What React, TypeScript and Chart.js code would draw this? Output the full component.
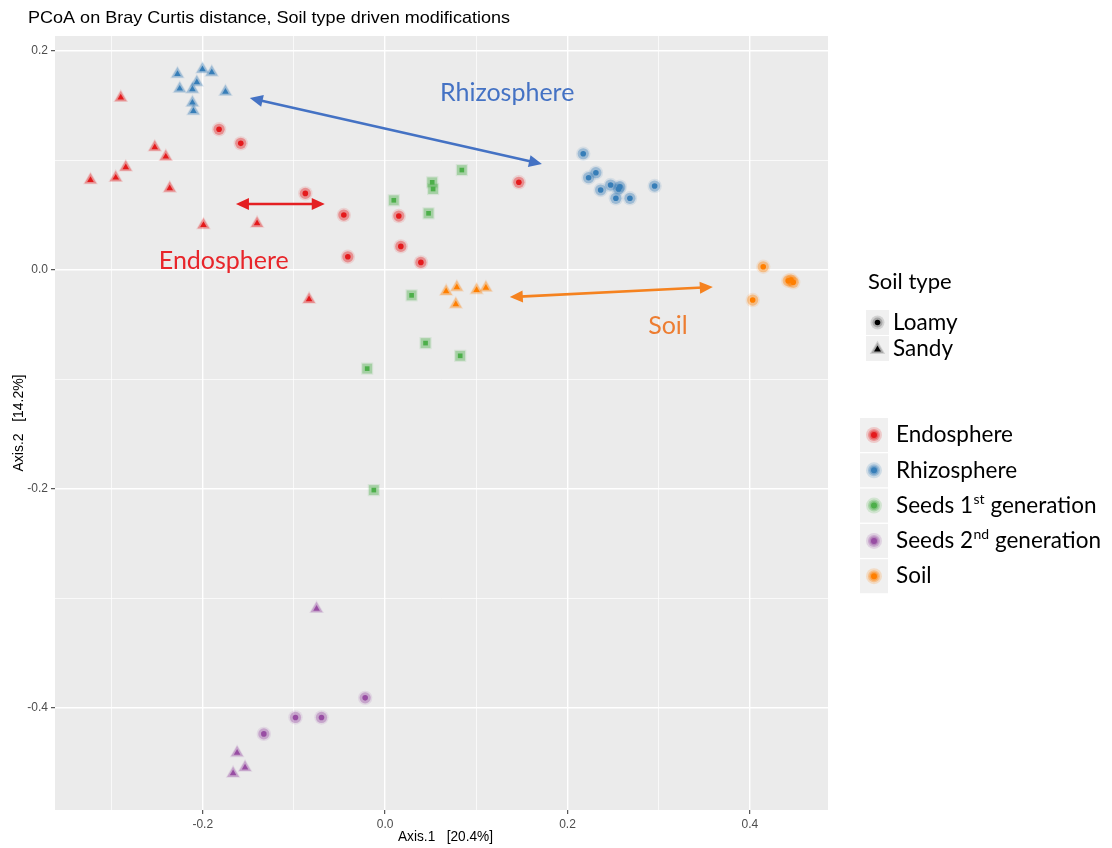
import React, { useEffect, useRef } from "react";
import { Chart, registerables } from "chart.js";

Chart.register(...registerables);

// ---------- data (Axis.1, Axis.2) ----------
const endosphereLoamy: number[][] = [
  [-0.1821, 0.1285], [-0.1583, 0.1157], [-0.0875, 0.07], [-0.0453, 0.0502], [-0.0409, 0.0121],
  [0.015, 0.0493], [0.0172, 0.0216], [0.0392, 0.007], [0.1466, 0.0801],
];
const endosphereSandy: number[][] = [
  [-0.2899, 0.1574], [-0.2526, 0.1121], [-0.2405, 0.1035], [-0.2844, 0.0938], [-0.3231, 0.0822],
  [-0.2954, 0.0843], [-0.2362, 0.0746], [-0.1992, 0.0411], [-0.1404, 0.0426], [-0.0834, -0.0268],
];
const rhizosphereLoamy: number[][] = [
  [0.2172, 0.1062], [0.2311, 0.0889], [0.2231, 0.0843], [0.2472, 0.0776], [0.2363, 0.0731],
  [0.2574, 0.0761], [0.256, 0.074], [0.253, 0.0655], [0.2684, 0.0655], [0.2955, 0.0767],
];
const rhizosphereSandy: number[][] = [
  [-0.2277, 0.179], [-0.2003, 0.1833], [-0.1901, 0.1805], [-0.2065, 0.1714], [-0.2252, 0.1656],
  [-0.2113, 0.165], [-0.1751, 0.1628], [-0.2113, 0.1528], [-0.2102, 0.1452],
];
const seeds1Other: number[][] = [
  [0.0841, 0.0913], [0.0516, 0.0801], [0.0526, 0.074], [0.0095, 0.0637], [0.0476, 0.0518],
  [0.029, -0.0231], [0.0443, -0.0667], [0.0823, -0.0783], [-0.0197, -0.09], [-0.0124, -0.2009],
];
const seeds2Loamy: number[][] = [
  [-0.0219, -0.3906], [-0.0983, -0.4085], [-0.0698, -0.4085], [-0.133, -0.4235],
];
const seeds2Sandy: number[][] = [
  [-0.0752, -0.3093], [-0.1623, -0.4408], [-0.1536, -0.4542], [-0.1667, -0.4596],
];
const soilLoamy: number[][] = [
  [0.4146, 0.003], [0.442, -0.0098], [0.4475, -0.0112], [0.445, -0.0091], [0.403, -0.0274],
];
const soilSandy: number[][] = [
  [0.0669, -0.0195], [0.0786, -0.0158], [0.1003, -0.0183], [0.1105, -0.0162], [0.0775, -0.0313],
];

const sampleTypes = ["Endosphere", "Rhizosphere", "Seeds 1st generation", "Seeds 2nd generation", "Soil"];
const sampleColors = ["#E41A1C", "#377EB8", "#4DAF4A", "#984EA3", "#FF7F00"];
const soilTypes = ["Loamy", "Sandy"];

const xTicks = [-0.2, 0.0, 0.2, 0.4];
const yTicks = [-0.4, -0.2, 0.0, 0.2];

const titleText = "PCoA on Bray Curtis distance, Soil type driven modifications";
const xTitle = "Axis.1   [20.4%]";
const yTitle = "Axis.2   [14.2%]";

// ---------- helpers ----------
function hexA(hex: string, a: number) {
  const n = parseInt(hex.slice(1), 16);
  return `rgba(${(n >> 16) & 255},${(n >> 8) & 255},${n & 255},${a})`;
}
const toPts = (arr: number[][]) => arr.map(([x, y]) => ({ x, y }));

const seriesDefs = [
  { data: endosphereLoamy, color: sampleColors[0], style: "circle" },
  { data: endosphereSandy, color: sampleColors[0], style: "triangle" },
  { data: rhizosphereLoamy, color: sampleColors[1], style: "circle" },
  { data: rhizosphereSandy, color: sampleColors[1], style: "triangle" },
  { data: seeds1Other, color: sampleColors[2], style: "rect" },
  { data: seeds2Loamy, color: sampleColors[3], style: "circle" },
  { data: seeds2Sandy, color: sampleColors[3], style: "triangle" },
  { data: soilLoamy, color: sampleColors[4], style: "circle" },
  { data: soilSandy, color: sampleColors[4], style: "triangle" },
];
const coreR: Record<string, number> = { circle: 2.8, triangle: 3.8, rect: 3.3 };
const haloR: Record<string, number> = { circle: 5.6, triangle: 7.0, rect: 7.0 };

const isMajor = (v: number) => Math.abs(Math.round(v * 10)) % 2 === 0;

function fitText(ctx: CanvasRenderingContext2D, text: string, x: number, y: number, width: number, align: "left" | "center") {
  const w = ctx.measureText(text).width;
  const s = width / w;
  ctx.save();
  ctx.translate(x, y);
  ctx.scale(s, 1);
  ctx.textAlign = align;
  ctx.fillText(text, 0, 0);
  ctx.restore();
}

function arrowHead(ctx: CanvasRenderingContext2D, x: number, y: number, ang: number) {
  const hl = 13, hw = 6;
  const c = Math.cos(ang), s = Math.sin(ang);
  ctx.beginPath();
  ctx.moveTo(x, y);
  ctx.lineTo(x - hl * c + hw * s, y - hl * s - hw * c);
  ctx.lineTo(x - hl * c - hw * s, y - hl * s + hw * c);
  ctx.closePath();
  ctx.fill();
}
function drawArrow(ctx: CanvasRenderingContext2D, x1: number, y1: number, x2: number, y2: number, color: string) {
  const ang = Math.atan2(y2 - y1, x2 - x1);
  const c = Math.cos(ang), s = Math.sin(ang);
  ctx.save();
  ctx.strokeStyle = color;
  ctx.fillStyle = color;
  ctx.lineWidth = 2.6;
  ctx.beginPath();
  ctx.moveTo(x1 + c * 10, y1 + s * 10);
  ctx.lineTo(x2 - c * 10, y2 - s * 10);
  ctx.stroke();
  arrowHead(ctx, x2, y2, ang);
  arrowHead(ctx, x1, y1, ang + Math.PI);
  ctx.restore();
}

// annotations in data coordinates
const annotations = [
  { text: "Rhizosphere", x: 0.1338, y: 0.1616, color: "#4472C4" },
  { text: "Endosphere", x: -0.1769, y: 0.0082, color: "#E8252A" },
  { text: "Soil", x: 0.3101, y: -0.0511, color: "#ED7D31" },
];
const arrows = [
  { x1: -0.1484, y1: 0.1571, x2: 0.1719, y2: 0.0968, color: "#4472C4" },
  { x1: -0.1636, y1: 0.0603, x2: -0.0662, y2: 0.0603, color: "#E41F22" },
  { x1: 0.1367, y1: -0.0247, x2: 0.3593, y2: -0.0155, color: "#F5821F" },
];

const LEG_FONT = "Lato, 'Open Sans', sans-serif";

const decorPlugin = {
  id: "decor",
  beforeDraw(chart: any) {
    const ctx: CanvasRenderingContext2D = chart.ctx;
    const a = chart.chartArea;
    ctx.save();
    ctx.fillStyle = "#FFFFFF";
    ctx.fillRect(0, 0, chart.width, chart.height);
    ctx.fillStyle = "#EBEBEB";
    ctx.fillRect(a.left, a.top, a.right - a.left, a.bottom - a.top);
    ctx.restore();
  },
  afterDraw(chart: any) {
    const ctx: CanvasRenderingContext2D = chart.ctx;
    const a = chart.chartArea;
    const xs = chart.scales.x, ys = chart.scales.y;
    ctx.save();
    ctx.textBaseline = "middle";

    // title
    ctx.fillStyle = "#000000";
    ctx.font = "16.5px 'Liberation Sans', Arial, sans-serif";
    fitText(ctx, titleText, 28, 18, 482, "left");

    // axis titles
    ctx.font = "14px 'Liberation Sans', Arial, sans-serif";
    fitText(ctx, xTitle, (a.left + a.right) / 2 + 4, 837, 95, "center");
    ctx.save();
    ctx.translate(19, (a.top + a.bottom) / 2);
    ctx.rotate(-Math.PI / 2);
    fitText(ctx, yTitle, 0, 0, 97, "center");
    ctx.restore();

    // arrows & annotations
    arrows.forEach((ar) => {
      drawArrow(ctx, xs.getPixelForValue(ar.x1), ys.getPixelForValue(ar.y1), xs.getPixelForValue(ar.x2), ys.getPixelForValue(ar.y2), ar.color);
    });
    ctx.font = `25px ${LEG_FONT}`;
    ctx.textAlign = "center";
    annotations.forEach((an) => {
      ctx.fillStyle = an.color;
      ctx.fillText(an.text, xs.getPixelForValue(an.x), ys.getPixelForValue(an.y));
    });

    // legend: soil type
    ctx.textAlign = "left";
    ctx.fillStyle = "#000000";
    ctx.font = `22px ${LEG_FONT}`;
    ctx.fillText("Soil type", 868, 282);
    soilTypes.forEach((lab, i) => {
      const top = 310 + i * 26;
      ctx.fillStyle = "#F0F0F0";
      ctx.fillRect(866, top, 23, 25);
      const cx = 877.5, cy = top + 12.5;
      if (i === 0) {
        ctx.fillStyle = "rgba(0,0,0,0.12)";
        ctx.beginPath(); ctx.arc(cx, cy, 7, 0, Math.PI * 2); ctx.fill();
        ctx.fillStyle = "rgba(0,0,0,0.2)";
        ctx.beginPath(); ctx.arc(cx, cy, 5, 0, Math.PI * 2); ctx.fill();
        ctx.fillStyle = "#000";
        ctx.beginPath(); ctx.arc(cx, cy, 2.8, 0, Math.PI * 2); ctx.fill();
      } else {
        const tri = (r: number) => {
          ctx.beginPath();
          for (let k = 0; k < 3; k++) {
            const ang = -Math.PI / 2 + (k * 2 * Math.PI) / 3;
            const px = cx + Math.cos(ang) * r, py = cy + 1 + Math.sin(ang) * r;
            k === 0 ? ctx.moveTo(px, py) : ctx.lineTo(px, py);
          }
          ctx.closePath();
          ctx.fill();
        };
        ctx.fillStyle = "rgba(0,0,0,0.12)"; tri(9);
        ctx.fillStyle = "rgba(0,0,0,0.2)"; tri(7);
        ctx.fillStyle = "#000"; tri(4);
      }
      ctx.fillStyle = "#000";
      ctx.font = `22.5px ${LEG_FONT}`;
      ctx.fillText(lab, 893, cy);
    });

    // legend: sample type
    sampleTypes.forEach((lab, i) => {
      const top = 418 + i * 35.3;
      ctx.fillStyle = "#F0F0F0";
      ctx.fillRect(860, top, 28, 34);
      const cx = 874, cy = top + 17;
      const col = sampleColors[i];
      [[8, 0.18], [6, 0.3], [4.5, 0.4]].forEach(([r, al]) => {
        ctx.fillStyle = hexA(col, al);
        ctx.beginPath(); ctx.arc(cx, cy, r, 0, Math.PI * 2); ctx.fill();
      });
      ctx.fillStyle = col;
      ctx.beginPath(); ctx.arc(cx, cy, 3, 0, Math.PI * 2); ctx.fill();

      ctx.fillStyle = "#000";
      ctx.font = `22.5px ${LEG_FONT}`;
      const m = lab.match(/^(Seeds \d)(st|nd)( generation)$/);
      if (m) {
        let x = 896;
        ctx.fillText(m[1], x, cy);
        x += ctx.measureText(m[1]).width;
        ctx.font = `14px ${LEG_FONT}`;
        ctx.fillText(m[2], x + 0.5, cy - 6);
        x += ctx.measureText(m[2]).width + 0.5;
        ctx.font = `22.5px ${LEG_FONT}`;
        ctx.fillText(m[3], x, cy);
      } else {
        ctx.fillText(lab, 896, cy);
      }
    });
    ctx.restore();
  },
};

export default function App() {
  const ref = useRef<HTMLCanvasElement | null>(null);
  useEffect(() => {
    if (!ref.current) return;
    const datasets: any[] = [];
    seriesDefs.forEach((s) => {
      datasets.push({
        data: toPts(s.data),
        pointStyle: s.style,
        pointRadius: coreR[s.style],
        backgroundColor: s.color,
        borderWidth: 0,
        order: 1,
      });
      datasets.push({
        data: toPts(s.data),
        pointStyle: s.style,
        pointRadius: haloR[s.style],
        backgroundColor: hexA(s.color, 0.36),
        borderWidth: 0,
        order: 2,
      });
      datasets.push({
        data: toPts(s.data),
        pointStyle: s.style,
        pointRadius: haloR[s.style] + 1.6,
        backgroundColor: hexA(s.color, 0.12),
        borderWidth: 0,
        order: 3,
      });
    });
    const tickFont = { family: "'Liberation Sans', Arial, sans-serif", size: 12 };
    const gridOpts = {
      color: "#FFFFFF",
      lineWidth: (c: any) => (c.tick && isMajor(c.tick.value) ? 1.4 : 0.7),
      tickColor: (c: any) => (c.tick && isMajor(c.tick.value) ? "#333333" : "rgba(0,0,0,0)"),
      tickLength: 4,
      tickWidth: 1,
      drawOnChartArea: true,
    };
    const labelCb = (list: number[]) => (v: any) => {
      const n = Number(v);
      const hit = list.find((t) => Math.abs(t - n) < 1e-6);
      return hit === undefined ? "" : hit.toFixed(1);
    };
    const chart = new Chart(ref.current, {
      type: "scatter",
      data: { datasets },
      options: {
        animation: false,
        responsive: false,
        devicePixelRatio: 1,
        layout: { padding: { top: 36, right: 284, left: 0, bottom: 0 } },
        plugins: { legend: { display: false }, tooltip: { enabled: false }, title: { display: false } },
        scales: {
          x: {
            type: "linear",
            min: -0.362,
            max: 0.4856,
            border: { display: false },
            grid: gridOpts as any,
            ticks: {
              stepSize: 0.1,
              includeBounds: false,
              autoSkip: false,
              maxRotation: 0,
              padding: 3,
              color: "#4D4D4D",
              font: tickFont,
              callback: labelCb(xTicks),
            },
            afterFit: (axis: any) => { axis.height = 38; },
          },
          y: {
            type: "linear",
            min: -0.493,
            max: 0.2137,
            border: { display: false },
            grid: gridOpts as any,
            ticks: {
              stepSize: 0.1,
              includeBounds: false,
              autoSkip: false,
              padding: 3,
              color: "#4D4D4D",
              font: tickFont,
              callback: labelCb(yTicks),
            },
            afterFit: (axis: any) => { axis.width = 55; },
          },
        },
      },
      plugins: [decorPlugin],
    });
    return () => chart.destroy();
  }, []);
  return (
    <div style={{ position: "absolute", left: 0, top: 0, width: 1112, height: 848, background: "#fff" }}>
      <canvas ref={ref} width={1112} height={848} style={{ width: 1112, height: 848, display: "block" }} />
    </div>
  );
}
